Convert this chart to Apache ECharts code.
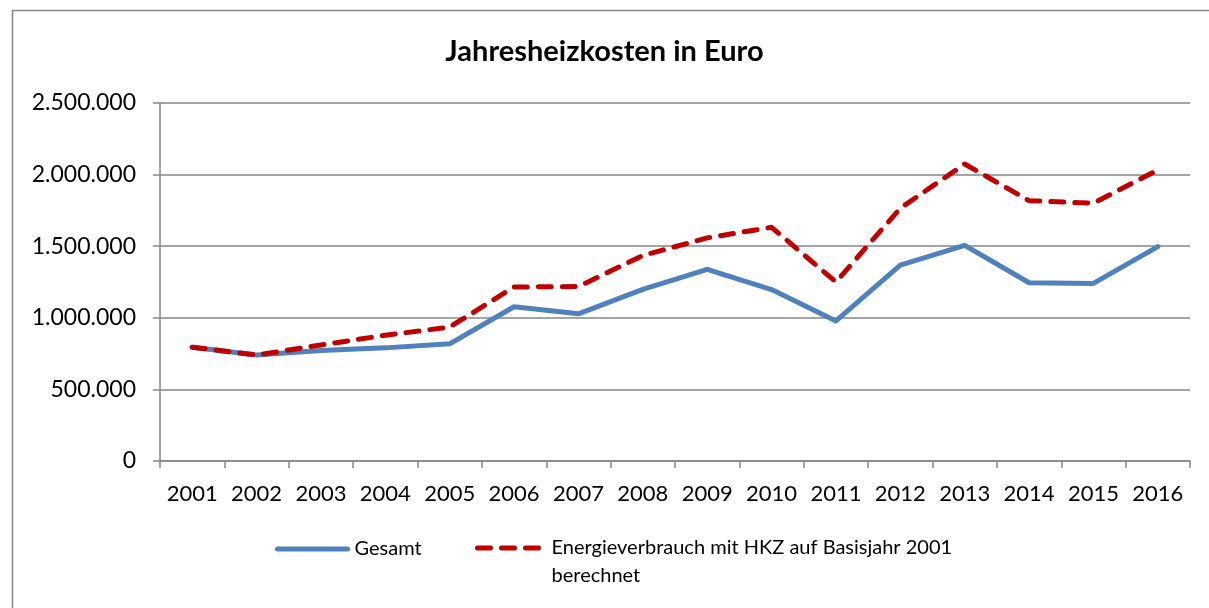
<!DOCTYPE html>
<html>
<head>
<meta charset="utf-8">
<script src="https://cdn.jsdelivr.net/npm/echarts@6/dist/echarts.min.js"></script>
<style>
  html, body { margin: 0; padding: 0; background: #fff; overflow: hidden; }
  #chart { width: 1209px; height: 608px; }
</style>
</head>
<body>
<div id="chart"></div>
<script>
// Jahre
const years = ['2001', '2002', '2003', '2004', '2005', '2006', '2007', '2008',
  '2009', '2010', '2011', '2012', '2013', '2014', '2015', '2016'];

// Gesamt
const gesamt = [795000, 740000, 772000, 790000, 818000, 1077000, 1028000, 1198000,
  1338000, 1197000, 978000, 1368000, 1506000, 1245000, 1240000, 1497000];

// Energieverbrauch mit HKZ auf Basisjahr 2001 berechnet
const hkz = [795000, 740000, 810000, 878000, 935000, 1215000, 1218000, 1435000,
  1558000, 1632000, 1250000, 1765000, 2074000, 1818000, 1800000, 2032000];

const fmt = v => String(v).replace(/\B(?=(\d{3})+(?!\d))/g, '.');

const chart = echarts.init(document.getElementById('chart'));
const font = 'Lato, "Open Sans", sans-serif';

chart.setOption({
  animation: false,
  textStyle: { fontFamily: font },
  title: {
    text: 'Jahresheizkosten in Euro',
    left: 'center',
    top: 32,
    textStyle: { fontSize: 29, fontWeight: 'bold', color: '#000', fontFamily: font }
  },
  graphic: [{
    type: 'polyline',
    shape: { points: [[12.5, 620], [12.5, 10.5], [1215, 10.5]] },
    style: { fill: 'none', stroke: '#868686', lineWidth: 1.5 }
  }],
  legend: [{
    data: ['Gesamt'],
    left: 270,
    top: 534,
    itemWidth: 70,
    itemHeight: 20,
    itemStyle: { opacity: 0 },
    lineStyle: { width: 5 },
    textStyle: { fontSize: 20, color: '#000', fontFamily: font, padding: [0, 0, 0, 2] }
  }, {
    data: ['Energieverbrauch mit HKZ auf Basisjahr 2001 berechnet'],
    left: 470,
    top: 501,
    itemWidth: 62,
    itemHeight: 20,
    itemStyle: { opacity: 0 },
    lineStyle: { width: 5 },
    // leere erste Zeile, damit das Symbol auf Höhe der ersten Textzeile sitzt
    formatter: () => '\nEnergieverbrauch mit HKZ auf Basisjahr 2001\nberechnet',
    textStyle: { fontSize: 20, lineHeight: 28, padding: [0, 0, 0, 7], color: '#000', fontFamily: font }
  }],
  grid: { left: 160, right: 19, top: 103, bottom: 147, containLabel: false },
  xAxis: {
    type: 'category',
    data: years,
    boundaryGap: true,
    axisLine: { lineStyle: { color: '#868686', width: 1.5 } },
    axisTick: { show: true, alignWithLabel: false, interval: 0, length: 7, lineStyle: { color: '#868686', width: 1.5 } },
    axisLabel: { fontSize: 22, color: '#000', margin: 22, interval: 0, fontFamily: font }
  },
  yAxis: {
    type: 'value',
    min: 0,
    max: 2500000,
    interval: 500000,
    axisLine: { show: true, lineStyle: { color: '#868686', width: 1.5 } },
    axisTick: { show: true, length: 7, lineStyle: { color: '#868686', width: 1.5 } },
    splitLine: { lineStyle: { color: '#868686', width: 1.5 } },
    axisLabel: { fontSize: 23, color: '#000', margin: 24, formatter: fmt, fontFamily: font }
  },
  series: [{
    name: 'Gesamt',
    type: 'line',
    data: gesamt,
    symbol: 'none',
    lineStyle: { color: '#4F81BD', width: 5, cap: 'round', join: 'round' },
    itemStyle: { color: '#4F81BD' }
  }, {
    name: 'Energieverbrauch mit HKZ auf Basisjahr 2001 berechnet',
    type: 'line',
    data: hkz,
    symbol: 'none',
    lineStyle: { color: '#C00000', width: 5, type: [13, 11], cap: 'round', join: 'round' },
    itemStyle: { color: '#C00000' }
  }]
});
</script>
</body>
</html>
